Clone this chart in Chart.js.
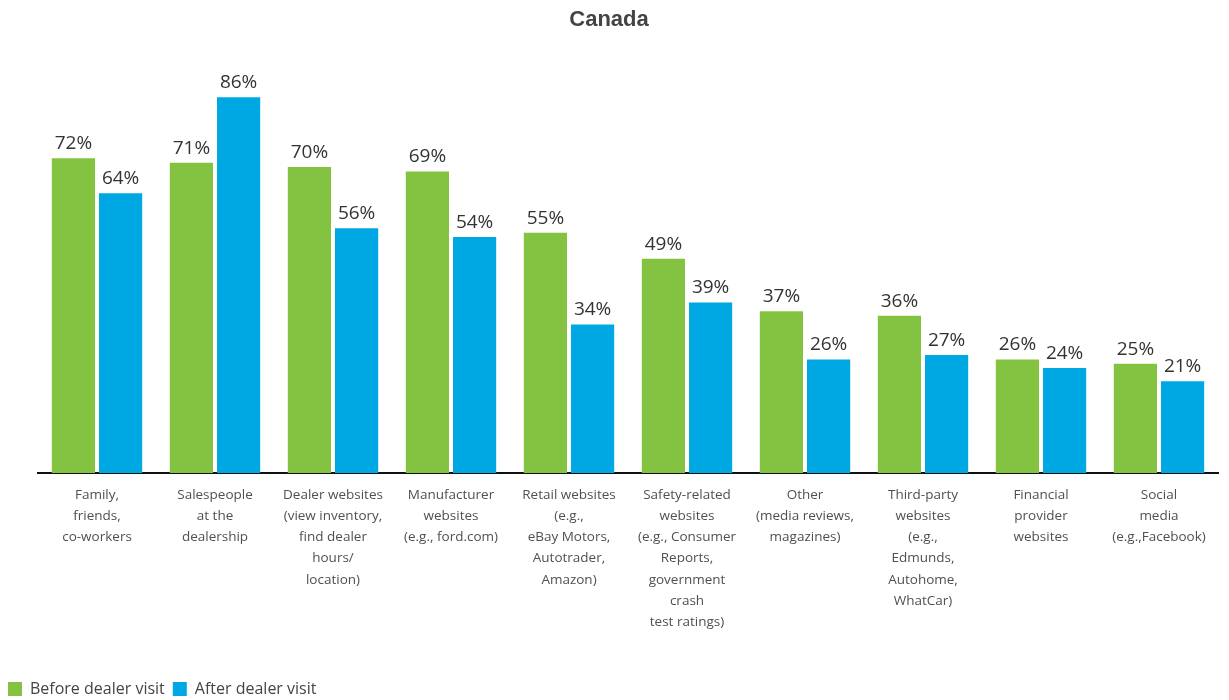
<!DOCTYPE html>
<html>
<head>
<meta charset="utf-8">
<script src="https://cdn.jsdelivr.net/npm/chart.js@4.4.0/dist/chart.umd.min.js"></script>
<style>
  html, body { margin: 0; padding: 0; background: #ffffff; }
  #wrap { width: 1229px; height: 700px; position: relative; }
</style>
</head>
<body>
<div id="wrap"><canvas id="c"></canvas></div>
<script>
const categories = [
  ["Family,", "friends,", "co-workers"],
  ["Salespeople", "at the", "dealership"],
  ["Dealer websites", "(view inventory,", "find dealer", "hours/", "location)"],
  ["Manufacturer", "websites", "(e.g., ford.com)"],
  ["Retail websites", "(e.g.,", "eBay Motors,", "Autotrader,", "Amazon)"],
  ["Safety-related", "websites", "(e.g., Consumer", "Reports,", "government", "crash", "test ratings)"],
  ["Other", "(media reviews,", "magazines)"],
  ["Third-party", "websites", "(e.g.,", "Edmunds,", "Autohome,", "WhatCar)"],
  ["Financial", "provider", "websites"],
  ["Social", "media", "(e.g.,Facebook)"]
];
const beforeVisit = [72, 71, 70, 69, 55, 49, 37, 36, 26, 25];
const afterVisit  = [64, 86, 56, 54, 34, 39, 26, 27, 24, 21];
const seriesNames = ["Before dealer visit", "After dealer visit"];
const titleText = "Canada";

const valueLabels = {
  id: 'valueLabels',
  afterDatasetsDraw(chart) {
    const ctx = chart.ctx;
    ctx.save();
    ctx.font = '19px "Open Sans"';
    ctx.fillStyle = '#333333';
    ctx.textAlign = 'center';
    ctx.textBaseline = 'bottom';
    chart.data.datasets.forEach((ds, di) => {
      chart.getDatasetMeta(di).data.forEach((bar, i) => {
        ctx.fillText(ds.data[i] + '%', bar.x, bar.y - 5);
      });
    });
    ctx.restore();
  }
};

new Chart(document.getElementById('c'), {
  type: 'bar',
  data: {
    labels: categories,
    datasets: [
      { label: seriesNames[0], data: beforeVisit, backgroundColor: '#84C341', borderWidth: 0 },
      { label: seriesNames[1], data: afterVisit, backgroundColor: '#00A8E3', borderWidth: 0 }
    ]
  },
  options: {
    responsive: true,
    maintainAspectRatio: false,
    animation: false,
    layout: { padding: { left: 0, right: 11, top: 0, bottom: 0 } },
    datasets: { bar: { categoryPercentage: 0.8, barPercentage: 0.915 } },
    plugins: {
      title: {
        display: true,
        text: titleText,
        color: '#444444',
        font: { family: '"Liberation Sans", Arial, sans-serif', size: 22, weight: 'bold', lineHeight: 1.2 },
        padding: { top: 7, bottom: 2.6 }
      },
      legend: {
        display: true,
        position: 'bottom',
        align: 'start',
        maxHeight: 27,
        labels: {
          boxWidth: 14,
          boxHeight: 14,
          padding: 8,
          color: '#444444',
          font: { family: '"Open Sans"', size: 16 }
        }
      },
      tooltip: { enabled: false }
    },
    scales: {
      x: {
        grid: { display: false },
        border: { display: true, color: '#111111', width: 2 },
        ticks: {
          color: '#505050',
          font: { family: '"Open Sans"', size: 13.5, lineHeight: 1.58 },
          padding: 3,
          maxRotation: 0,
          autoSkip: false
        },
        afterFit(scale) { scale.height = 200; }
      },
      y: {
        min: 0,
        max: 100,
        grid: { display: false },
        border: { display: false },
        ticks: { display: false },
        afterFit(scale) { scale.width = 38; }
      }
    }
  },
  plugins: [valueLabels]
});
</script>
</body>
</html>
